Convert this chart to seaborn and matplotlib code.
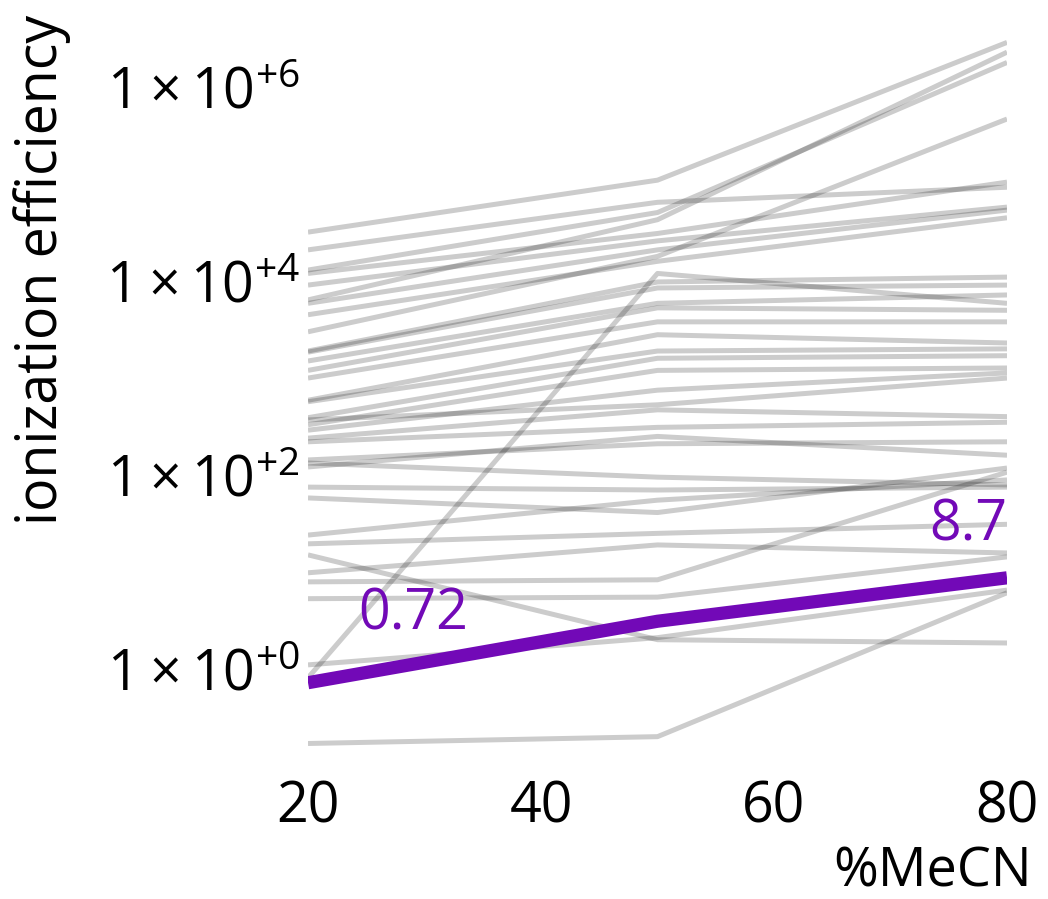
import matplotlib
matplotlib.use("Agg")
import matplotlib.pyplot as plt
import seaborn as sns
import pandas as pd

# ionization efficiency per compound at 20 / 50 / 80 %MeCN
mecn = [20, 50, 80]
ie_20 = [3.2e4, 2.1e4, 6.4e3, 1.3e4, 3.0e3, 1.2e4, 9.1e3, 5.9e3, 4.5e3, 0.81,
         1.9e3, 1.85e3, 1.5e3, 1.2e3, 1.0e3, 590, 570, 390, 330, 290,
         370, 240, 220, 143, 121, 133, 75, 58, 24, 19.5,
         9.8, 7.9, 5.3, 15, 1.1, 0.17]
ie_50 = [1.1e5, 6.5e4, 4.3e4, 5.1e4, 1.8e4, 3.1e4, 2.6e4, 2.1e4, 1.6e4, 1.2e4,
         9.8e3, 8.5e3, 5.9e3, 5.3e3, 3.8e3, 2.8e3, 1.9e3, 1.6e3, 1.2e3, 750,
         530, 470, 310, 210, 250, 95, 70, 41, 55, 25,
         19, 8.3, 5.5, 2.0, 2.1, 0.20]
ie_80 = [2.9e6, 9.3e4, 2.3e6, 1.8e6, 4.7e5, 1.05e5, 5.8e4, 5.4e4, 4.5e4, 5.9e3,
         1.1e4, 9.1e3, 7.2e3, 5.0e3, 3.8e3, 2.3e3, 2.0e3, 1.7e3, 1.27e3, 1.13e3,
         1.0e3, 400, 350, 220, 160, 79, 75, 118, 89, 31,
         15.7, 107, 14.3, 1.85, 6.5, 6.1]

# highlighted compound
hl_ie = [0.72, 3.1, 8.7]

rows = []
for i, (a, b, c) in enumerate(zip(ie_20, ie_50, ie_80)):
    for x, v in zip(mecn, [a, b, c]):
        rows.append({"compound": i, "mecn": x, "ie": v})
df = pd.DataFrame(rows)
df_hl = pd.DataFrame({"mecn": mecn, "ie": hl_ie})

sns.set_theme(style="white")
plt.rcParams["font.family"] = ["Open Sans", "DejaVu Sans"]
plt.rcParams["mathtext.fontset"] = "custom"
plt.rcParams["mathtext.rm"] = "Open Sans"
plt.rcParams["mathtext.it"] = "Open Sans"
plt.rcParams["mathtext.bf"] = "Open Sans"

purple = "#7209b7"
fs = 40

fig = plt.figure(figsize=(10.48, 8.99), dpi=100)
ax = fig.add_axes([0.2939, 0.1546, 0.667, 0.812])

sns.lineplot(data=df, x="mecn", y="ie", units="compound", estimator=None,
             color="black", alpha=0.2, linewidth=3.6, solid_capstyle="butt", ax=ax)
sns.lineplot(data=df_hl, x="mecn", y="ie", color=purple, linewidth=9.5,
             solid_capstyle="butt", ax=ax)

ax.set_yscale("log")
ax.set_xlim(20, 80)
ax.set_ylim(10 ** -0.94, 10 ** 6.59)

ax.set_xticks([20, 40, 60, 80])
ax.set_yticks([1, 1e2, 1e4, 1e6])
ax.set_yticklabels([r"$\mathregular{1\times10^{+0}}$", r"$\mathregular{1\times10^{+2}}$",
                    r"$\mathregular{1\times10^{+4}}$", r"$\mathregular{1\times10^{+6}}$"])
ax.minorticks_off()
ax.tick_params(axis="x", length=0, pad=14, labelsize=fs, colors="black")
ax.tick_params(axis="y", length=0, pad=6, labelsize=fs, colors="black")
sns.despine(ax=ax, left=True, bottom=True)

ax.set_xlabel("%MeCN", fontsize=fs - 1, ha="right", va="baseline", color="black")
ax.xaxis.set_label_coords(1.035, -0.1726)
ax.set_ylabel("ionization efficiency", fontsize=fs, ha="right", va="center", color="black")
ax.yaxis.set_label_coords(-0.381, 1.0205)

ax.annotate(f"{hl_ie[0]:g}", xy=(mecn[0], hl_ie[0]), xytext=(36, 38),
            textcoords="offset points", ha="left", va="baseline",
            color=purple, fontsize=fs)
ax.annotate(f"{hl_ie[-1]:g}", xy=(mecn[-1], hl_ie[-1]), xytext=(0, 27),
            textcoords="offset points", ha="right", va="baseline",
            color=purple, fontsize=fs)

fig.savefig("out.png", dpi=100)
